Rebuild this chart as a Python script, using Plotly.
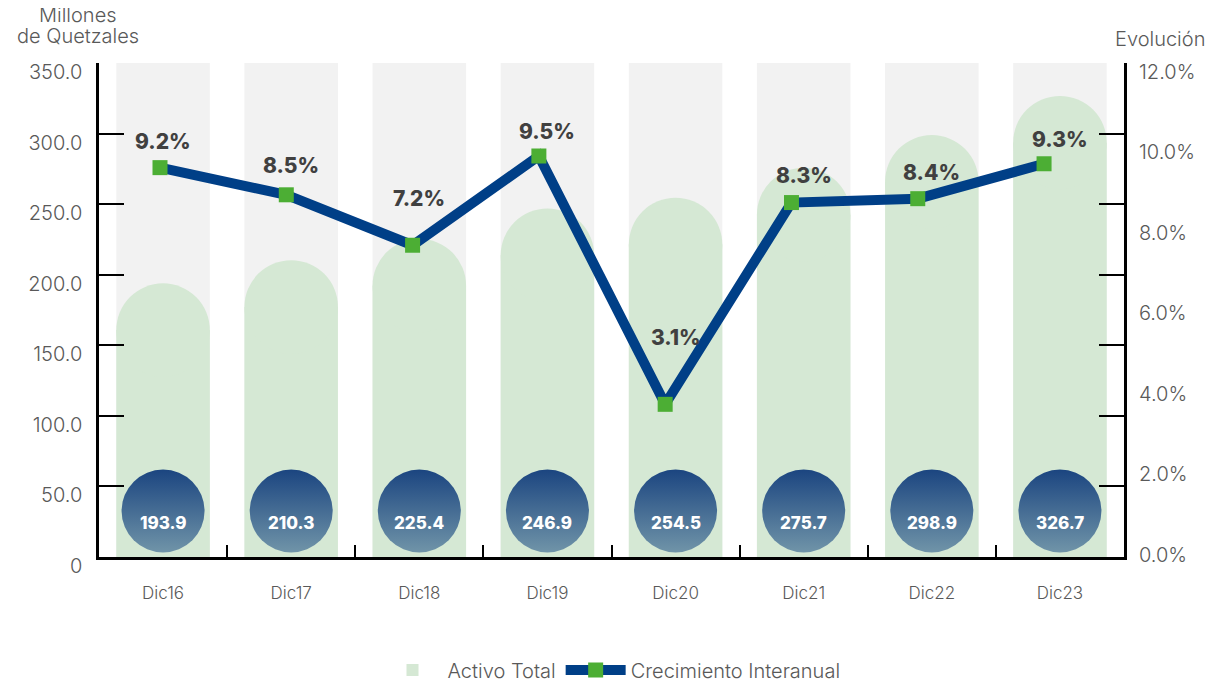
import plotly.graph_objects as go

# Datos
periodos = ["Dic16", "Dic17", "Dic18", "Dic19", "Dic20", "Dic21", "Dic22", "Dic23"]
activo_total = [193.9, 210.3, 225.4, 246.9, 254.5, 275.7, 298.9, 326.7]
crecimiento = [9.2, 8.5, 7.2, 9.5, 3.1, 8.3, 8.4, 9.3]

ticks_izq = [0, 50, 100, 150, 200, 250, 300, 350]
ticks_izq_txt = ["0", "50.0", "100.0", "150.0", "200.0", "250.0", "300.0", "350.0"]
ticks_der = [0, 2, 4, 6, 8, 10, 12]
ticks_der_txt = ["0.0%", "2.0%", "4.0%", "6.0%", "8.0%", "10.0%", "12.0%"]

# Estilo
Y_MAX = 350
BURBUJA_Y = 32.6
ALTURA_ETIQUETA = [26, 29, 47, 25, 67, 27, 26, 24]
GRIS = "#595959"
VERDE = "#d5e8d4"
FUENTE = "Inter"
ANCHO = 0.73

# tamano del area de trazado (px) para el remate redondo de las barras
ALTO_PX = 494
ANCHO_PX = 1025
DIAM_PX = ANCHO * ANCHO_PX / len(periodos)
R = (DIAM_PX / 2) * Y_MAX / ALTO_PX  # radio en unidades del eje

fig = go.Figure()

# Columnas grises de fondo
fig.add_trace(go.Bar(
    x=periodos, y=[Y_MAX] * len(periodos), width=ANCHO,
    marker=dict(color="#f2f2f2", line=dict(width=0)),
    showlegend=False, hoverinfo="skip"
))

# Barras (Activo Total) con remate semicircular
fig.add_trace(go.Bar(
    x=periodos, y=[v - R for v in activo_total], name="Activo Total",
    width=ANCHO, marker=dict(color=VERDE, line=dict(width=0)),
    customdata=activo_total, hovertemplate="%{x}: %{customdata:.1f}<extra></extra>",
))
fig.add_trace(go.Scatter(
    x=periodos, y=[v - R for v in activo_total], mode="markers",
    marker=dict(size=DIAM_PX, color=VERDE, line=dict(width=0)),
    showlegend=False, hoverinfo="skip"
))

# Burbujas azules con degradado
fig.add_trace(go.Scatter(
    x=periodos, y=[BURBUJA_Y] * len(periodos), mode="markers",
    marker=dict(size=83, color="#1b4580", line=dict(width=0),
                gradient=dict(type="vertical", color="#7094a8")),
    showlegend=False, hoverinfo="skip"
))

# Linea de crecimiento interanual
fig.add_trace(go.Scatter(
    x=periodos, y=crecimiento, name="Crecimiento Interanual",
    xaxis="x2", yaxis="y2", mode="lines+markers",
    line=dict(color="#003f87", width=10),
    marker=dict(symbol="square", size=15, color="#4cae34"),
))

# eje derecho de etiquetas: traza vacia para que se dibuje
fig.add_trace(go.Scatter(x=[], y=[], yaxis="y3", showlegend=False))

anotaciones = []
for p, v in zip(periodos, activo_total):
    anotaciones.append(dict(
        x=p, y=BURBUJA_Y, xref="x", yref="y", yshift=-12,
        text=f"{v:.1f}", showarrow=False,
        font=dict(family=FUENTE, size=17, color="white", weight=800)
    ))
for p, v, h in zip(periodos, crecimiento, ALTURA_ETIQUETA):
    anotaciones.append(dict(
        x=p, y=v, xref="x", yref="y2", yshift=h,
        text=f"{v:.1f}%", showarrow=False,
        font=dict(family=FUENTE, size=21, color="#404040", weight=800)
    ))
anotaciones += [
    dict(x=-0.0205, y=1.097, xref="paper", yref="paper", text="Millones",
         showarrow=False, xanchor="center", yanchor="middle",
         font=dict(family=FUENTE, size=20, color=GRIS, weight=300)),
    dict(x=-0.0205, y=1.0547, xref="paper", yref="paper", text="de Quetzales",
         showarrow=False, xanchor="center", yanchor="middle",
         font=dict(family=FUENTE, size=20, color=GRIS, weight=300)),
    dict(x=1.035, y=1.0486, xref="paper", yref="paper", text="Evolución",
         showarrow=False, xanchor="center", yanchor="middle",
         font=dict(family=FUENTE, size=20, color=GRIS, weight=300)),
]

# la pagina deja 8 px de margen en el body: figura 8 px mas pequena
fig.update_layout(
    width=1210, height=677,
    margin=dict(l=91, r=94, t=55, b=128),
    plot_bgcolor="white", paper_bgcolor="white",
    barmode="overlay",
    font=dict(family=FUENTE, color=GRIS),
    xaxis=dict(
        type="category", categoryorder="array", categoryarray=periodos,
        range=[-0.5, 7.5], tickson="boundaries", ticks="inside", ticklen=12,
        tickwidth=2, tickcolor="black", showline=True, linecolor="black",
        linewidth=3, showgrid=False, ticklabelstandoff=19, automargin=False,
        tickfont=dict(size=17, color=GRIS, weight=300),
    ),
    xaxis2=dict(
        type="category", categoryorder="array", categoryarray=periodos,
        overlaying="x", range=[-0.483, 7.633], visible=False,
        automargin=False,
    ),
    yaxis=dict(
        range=[0, Y_MAX], tickvals=ticks_izq, ticktext=ticks_izq_txt,
        ticks="inside", ticklen=25, tickwidth=2, tickcolor="black",
        showline=True, linecolor="black", linewidth=2.5, mirror="ticks",
        showgrid=False, zeroline=False, ticklabelshift=9,
        ticklabelstandoff=10, automargin=False,
        tickfont=dict(size=20, color=GRIS, weight=300),
    ),
    yaxis2=dict(
        overlaying="y", side="right", range=[-0.835, 11.897],
        visible=False, showgrid=False, zeroline=False, automargin=False,
    ),
    yaxis3=dict(
        overlaying="y", side="right", anchor="x", range=[-0.05, 12.22],
        tickvals=ticks_der, ticktext=ticks_der_txt, ticks="",
        showline=False, showgrid=False, zeroline=False,
        ticklabelstandoff=14, automargin=False,
        tickfont=dict(size=20, color=GRIS, weight=300),
    ),
    legend=dict(
        orientation="h", x=0.5, xanchor="center",
        yref="container", y=0.022, yanchor="middle",
        font=dict(size=20, color=GRIS, weight=300), itemwidth=60,
    ),
    annotations=anotaciones,
)

fig.write_html("out.html")
